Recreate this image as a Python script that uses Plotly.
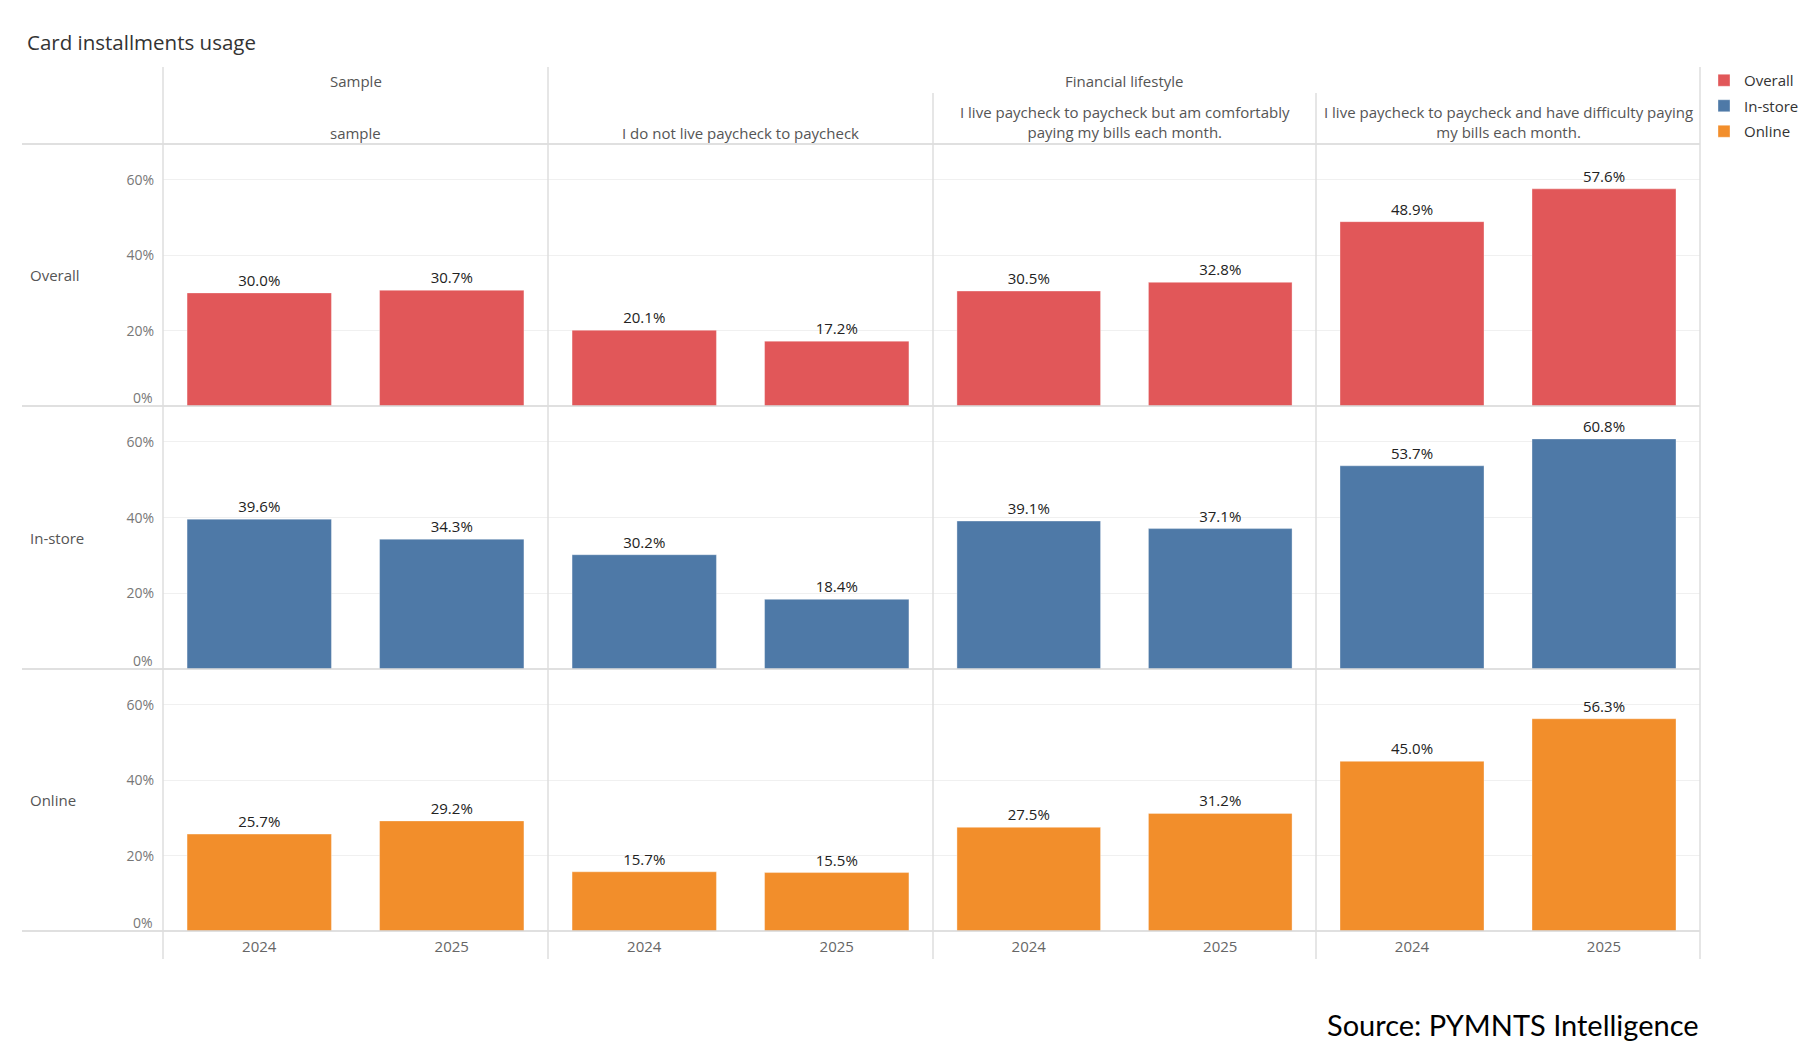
import plotly.graph_objects as go

# ---------------- data ----------------
years = ["2024", "2025"]
group_labels = [
    "sample",
    "I do not live paycheck to paycheck",
    "I live paycheck to paycheck but am comfortably<br>paying my bills each month.",
    "I live paycheck to paycheck and have difficulty paying<br>my bills each month.",
]
top_headers = ["Sample", "Financial lifestyle"]
series_names = ["Overall", "In-store", "Online"]
series_colors = ["#E15759", "#4E79A7", "#F28E2B"]

overall = [[30.0, 30.7], [20.1, 17.2], [30.5, 32.8], [48.9, 57.6]]
in_store = [[39.6, 34.3], [30.2, 18.4], [39.1, 37.1], [53.7, 60.8]]
online = [[25.7, 29.2], [15.7, 15.5], [27.5, 31.2], [45.0, 56.3]]
series_values = [overall, in_store, online]

y_ticks = [20, 40, 60]
y_tick_text = ["20%", "40%", "60%"]

# ---------------- layout geometry (pixels) ----------------
W, H = 1817, 1057
def px(x): return x / W
def py(y): return 1 - y / H

col_edges = [163, 548, 933, 1316, 1700]
row_edges = [144, 406, 669, 931]
Y_MAX = 69.5
FONT = "Open Sans"

fig = go.Figure()
layout = {}

for r, (sname, scol, vals) in enumerate(zip(series_names, series_colors, series_values)):
    for c in range(4):
        i = r * 4 + c + 1
        xa = "x" if i == 1 else f"x{i}"
        ya = "y" if i == 1 else f"y{i}"
        fig.add_trace(go.Bar(
            x=years, y=vals[c], xaxis=xa, yaxis=ya,
            name=sname, legendgroup=sname, showlegend=(c == 0),
            marker=dict(color=scol, line=dict(color="rgba(255,255,255,0.35)", width=1)),
            texttemplate="%{y:.1f}%", textposition="outside",
            textfont=dict(family=FONT, size=15, color="#222"),
            cliponaxis=False, hoverinfo="x+y",
        ))
        xkey = "xaxis" if i == 1 else f"xaxis{i}"
        ykey = "yaxis" if i == 1 else f"yaxis{i}"
        layout[xkey] = dict(
            domain=[px(col_edges[c]), px(col_edges[c + 1])],
            anchor=ya, type="category",
            showticklabels=(r == 2), showgrid=False, showline=False, zeroline=False,
            ticks="", tickfont=dict(family=FONT, size=15, color="#666"),
            ticklabelstandoff=5,
        )
        layout[ykey] = dict(
            domain=[py(row_edges[r + 1]), py(row_edges[r])],
            anchor=xa, range=[0, Y_MAX],
            tickvals=y_ticks, ticktext=y_tick_text,
            showticklabels=(c == 0), showgrid=True, gridcolor="#f0f0f0", gridwidth=1,
            zeroline=False, showline=False, ticks="",
            tickfont=dict(family=FONT, size=14, color="#777"),
            ticklabelstandoff=8,
        )

annotations = []
# 0% labels (sit slightly above the baseline)
for r in range(3):
    ya = "y" if r == 0 else f"y{r*4+1}"
    annotations.append(dict(x=px(155), xref="paper", xanchor="right", y=0, yref=ya,
                            yanchor="middle", yshift=9, text="0%", showarrow=False,
                            font=dict(family=FONT, size=14, color="#777")))
# row labels
for r, sname in enumerate(series_names):
    annotations.append(dict(x=px(28), xref="paper", xanchor="left",
                            y=py((row_edges[r] + row_edges[r + 1]) / 2), yref="paper",
                            yanchor="middle", text=sname, showarrow=False,
                            font=dict(family=FONT, size=15, color="#555")))
# top headers
annotations.append(dict(x=px((col_edges[0] + col_edges[1]) / 2), y=py(81), xref="paper", yref="paper",
                        xanchor="center", yanchor="middle",
                        text=top_headers[0], showarrow=False,
                        font=dict(family=FONT, size=15, color="#555")))
annotations.append(dict(x=px((col_edges[1] + col_edges[4]) / 2), y=py(81), xref="paper", yref="paper",
                        xanchor="center", yanchor="middle",
                        text=top_headers[1], showarrow=False,
                        font=dict(family=FONT, size=15, color="#555")))
# group headers
for c, lab in enumerate(group_labels):
    nlines = lab.count("<br>") + 1
    annotations.append(dict(x=px((col_edges[c] + col_edges[c + 1]) / 2), y=py(133 - (nlines - 1) * 11),
                            xref="paper", yref="paper", xanchor="center", yanchor="middle",
                            text=lab, showarrow=False,
                            font=dict(family=FONT, size=15, color="#555")))
# source
annotations.append(dict(x=px(1701), y=py(1024), xref="paper", yref="paper",
                        xanchor="right", yanchor="middle",
                        text="Source: PYMNTS Intelligence", showarrow=False,
                        font=dict(family="Lato", size=29, color="#000")))

shapes = []
line_col = "#d6d6d6"
for y in row_edges:
    shapes.append(dict(type="line", xref="paper", yref="paper",
                       x0=px(22), x1=px(1700), y0=py(y), y1=py(y),
                       line=dict(color=line_col, width=1.5)))
for x, ytop in [(163, 67), (548, 67), (933, 93), (1316, 93), (1700, 67)]:
    shapes.append(dict(type="line", xref="paper", yref="paper",
                       x0=px(x), x1=px(x), y0=py(ytop), y1=py(959),
                       line=dict(color="#dedede", width=1.5)))

fig.update_layout(
    **layout,
    width=W, height=H,
    margin=dict(l=0, r=0, t=0, b=0),
    paper_bgcolor="white", plot_bgcolor="white",
    bargap=0.25,
    font=dict(family=FONT, size=15, color="#333"),
    title=dict(text="Card installments usage", x=px(27), xanchor="left",
               y=py(43), yanchor="middle", xref="paper",
               font=dict(family=FONT, size=20.5, color="#333")),
    legend=dict(x=px(1704), y=py(64), xanchor="left", yanchor="top",
                font=dict(family=FONT, size=15, color="#333"),
                tracegroupgap=3, bgcolor="rgba(0,0,0,0)"),
    annotations=annotations,
    shapes=shapes,
)

fig.write_html("out.html")
